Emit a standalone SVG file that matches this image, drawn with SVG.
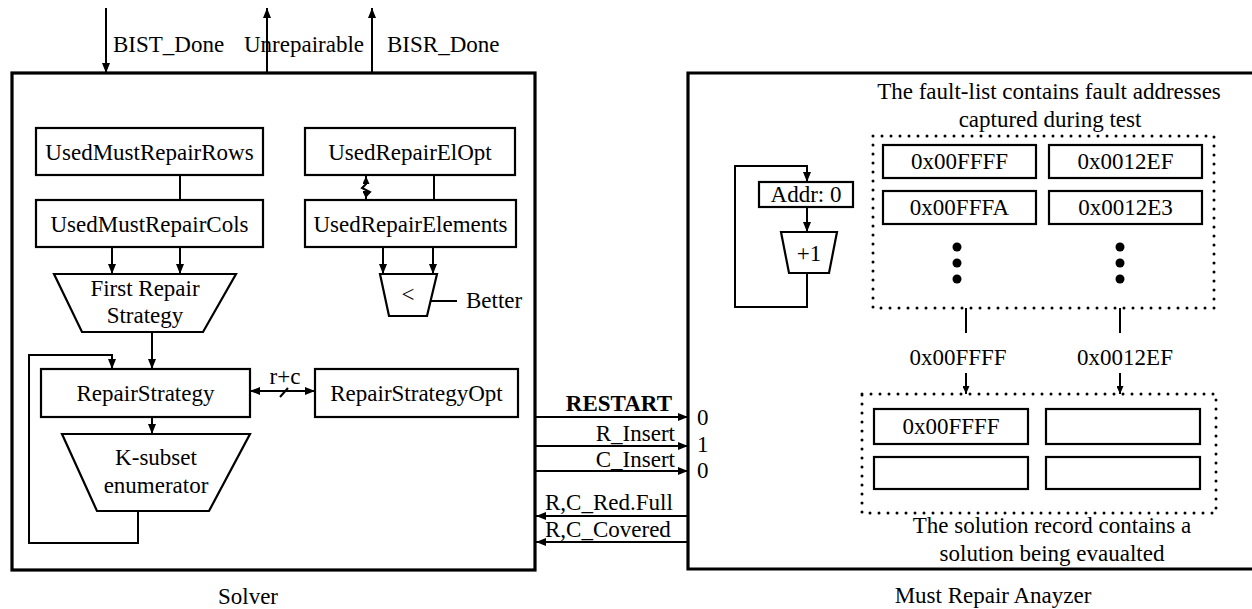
<svg xmlns="http://www.w3.org/2000/svg" width="1252" height="609" viewBox="0 0 1252 609">
<defs>
<marker id="ah" markerWidth="10" markerHeight="8" refX="10" refY="4" orient="auto-start-reverse" markerUnits="userSpaceOnUse"><path d="M0,0 L10,4 L0,8 z" fill="#000"/></marker>
<marker id="ahs" markerWidth="8" markerHeight="7" refX="8" refY="3.5" orient="auto-start-reverse" markerUnits="userSpaceOnUse"><path d="M0,0 L8,3.5 L0,7 z" fill="#000"/></marker>
</defs>
<style>
text{font-family:"Liberation Serif","Times New Roman",serif;font-size:23px;fill:#000}
.m{text-anchor:middle}
.e{text-anchor:end}
.box{fill:#fff;stroke:#000;stroke-width:2.2}
.outer{fill:none;stroke:#000;stroke-width:3.2}
.ln{fill:none;stroke:#000;stroke-width:2}
.arr{fill:none;stroke:#000;stroke-width:2;marker-end:url(#ah)}
.dot{fill:none;stroke:#000;stroke-width:3;stroke-linecap:round;stroke-dasharray:0 9}
</style>
<rect width="1252" height="609" fill="#fff"/>

<g id="solver">
<rect class="outer" x="12" y="73" width="523" height="497"/>
<text class="m" x="248" y="604">Solver</text>
</g>
<g id="analyzer">
<path class="outer" d="M1252,73 H688 V569 H1252"/>
<text class="m" x="993" y="603">Must Repair Anayzer</text>
</g>

<g id="connectors">
<line class="arr" x1="106" y1="8" x2="106" y2="73"/>
<line class="arr" x1="267" y1="73" x2="267" y2="8"/>
<line class="arr" x1="372" y1="73" x2="372" y2="8"/>
<line class="ln" x1="180" y1="175" x2="180" y2="200"/>
<line class="ln" x1="434" y1="175" x2="434" y2="200"/>
<path class="ln" d="M366,176 V184 L362,188 L370,192 L366,196 V199" marker-start="url(#ahs)" marker-end="url(#ahs)"/>
<line class="arr" x1="112" y1="247" x2="112" y2="274"/>
<line class="arr" x1="180" y1="247" x2="180" y2="274"/>
<line class="arr" x1="383" y1="247" x2="383" y2="274"/>
<line class="arr" x1="433" y1="247" x2="433" y2="274"/>
<line class="ln" x1="430" y1="301" x2="457" y2="301"/>
<line class="arr" x1="152" y1="332" x2="152" y2="369"/>
<line class="arr" x1="152" y1="417" x2="152" y2="434"/>
<path class="arr" d="M138,511 V543 H29 V355 H112 V369"/>
<line class="ln" x1="250" y1="391" x2="315" y2="391" marker-start="url(#ah)" marker-end="url(#ah)"/>
<line class="ln" x1="280" y1="397" x2="288" y2="388"/>
<line class="arr" x1="535" y1="417" x2="688" y2="417"/>
<line class="arr" x1="535" y1="446" x2="688" y2="446"/>
<line class="arr" x1="535" y1="471" x2="688" y2="471"/>
<line class="arr" x1="688" y1="516" x2="536" y2="516"/>
<line class="arr" x1="688" y1="542" x2="536" y2="542"/>
<line class="ln" x1="966" y1="308" x2="966" y2="333"/>
<line class="ln" x1="1120" y1="308" x2="1120" y2="333"/>
<line class="ln" x1="966" y1="373" x2="966" y2="394" marker-end="url(#ahs)"/>
<line class="ln" x1="1120" y1="373" x2="1120" y2="394" marker-end="url(#ahs)"/>
<line class="arr" x1="807" y1="207" x2="807" y2="232"/>
<path class="arr" d="M807,273 V307 H735 V166 H807 V182"/>
</g>

<g id="top-labels">
<text x="113" y="52">BIST_Done</text>
<text x="244" y="52">Unrepairable</text>
<text x="387" y="52">BISR_Done</text>
</g>

<g id="used-must-repair-rows"><rect class="box" x="36" y="128" width="227" height="47"/><text class="m" x="149.5" y="160">UsedMustRepairRows</text></g>
<g id="used-must-repair-cols"><rect class="box" x="36" y="200" width="227" height="47"/><text class="m" x="149.5" y="232">UsedMustRepairCols</text></g>
<g id="used-repair-el-opt"><rect class="box" x="305" y="128" width="210" height="47"/><text class="m" x="410" y="160">UsedRepairElOpt</text></g>
<g id="used-repair-elements"><rect class="box" x="305" y="200" width="211" height="47"/><text class="m" x="410.5" y="232">UsedRepairElements</text></g>
<g id="first-repair-strategy"><polygon class="box" points="54,274 236,274 203,332 82,332"/><text class="m" x="145" y="296">First Repair</text><text class="m" x="145" y="323">Strategy</text></g>
<g id="comparator"><polygon class="box" points="380,274 437,274 427,316 389,316"/><text class="m" x="408" y="302">&lt;</text></g>
<g id="better"><text x="466" y="308">Better</text></g>
<g id="repair-strategy"><rect class="box" x="41" y="369" width="209" height="48"/><text class="m" x="145.5" y="401">RepairStrategy</text></g>
<g id="repair-strategy-opt"><rect class="box" x="315" y="369" width="203" height="48"/><text class="m" x="416.5" y="401">RepairStrategyOpt</text></g>
<g id="rc-label"><text class="m" x="285" y="384">r+c</text></g>
<g id="k-subset"><polygon class="box" points="62,434 250,434 209,511 97,511"/><text class="m" x="156" y="465">K-subset</text><text class="m" x="156" y="493">enumerator</text></g>

<g id="signals">
<text class="e" x="672" y="411" font-weight="bold">RESTART</text>
<text class="e" x="675" y="441">R_Insert</text>
<text class="e" x="675" y="467">C_Insert</text>
<text x="545" y="510">R,C_Red.Full</text>
<text x="545" y="537">R,C_Covered</text>
<text x="697" y="425">0</text>
<text x="697" y="452">1</text>
<text x="697" y="478">0</text>
</g>

<g id="addr"><rect class="box" x="759" y="182" width="94" height="25"/><text class="m" x="806" y="202">Addr: 0</text></g>
<g id="inc"><polygon class="box" points="781,232 837,232 829,273 789,273"/><text class="m" x="809" y="261">+1</text></g>

<g id="fault-list">
<text class="m" x="1049" y="99">The fault-list contains fault addresses</text>
<text class="m" x="1050" y="127">captured during test</text>
<rect class="dot" x="873" y="136" width="341" height="172"/>
<rect class="box" x="883" y="145" width="153" height="33"/><text class="m" x="959.5" y="169">0x00FFFF</text>
<rect class="box" x="1049" y="145" width="153" height="33"/><text class="m" x="1125.5" y="169">0x0012EF</text>
<rect class="box" x="883" y="191" width="153" height="33"/><text class="m" x="959.5" y="215">0x00FFFA</text>
<rect class="box" x="1049" y="191" width="153" height="33"/><text class="m" x="1125.5" y="215">0x0012E3</text>
<circle cx="957" cy="247" r="4.5"/><circle cx="957" cy="263" r="4.5"/><circle cx="957" cy="279" r="4.5"/>
<circle cx="1120" cy="247" r="4.5"/><circle cx="1120" cy="263" r="4.5"/><circle cx="1120" cy="279" r="4.5"/>
</g>
<g id="selected-labels">
<text class="m" x="958" y="365">0x00FFFF</text>
<text class="m" x="1125" y="365">0x0012EF</text>
</g>
<g id="solution-record">
<rect class="dot" x="862" y="394" width="354" height="119"/>
<rect class="box" x="874" y="409" width="154" height="35"/><text class="m" x="951" y="434">0x00FFFF</text>
<rect class="box" x="1046" y="409" width="154" height="35"/>
<rect class="box" x="874" y="457" width="154" height="32"/>
<rect class="box" x="1046" y="457" width="154" height="32"/>
<text class="m" x="1052" y="533">The solution record contains a</text>
<text class="m" x="1052" y="561">solution being evaualted</text>
</g>
</svg>
